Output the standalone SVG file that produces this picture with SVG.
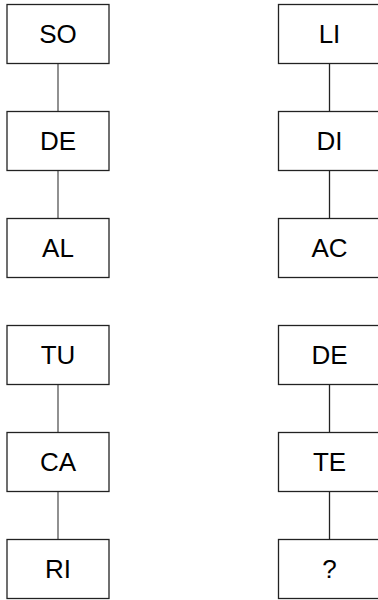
<svg xmlns="http://www.w3.org/2000/svg" width="378" height="600" viewBox="0 0 378 600">
<style>
.box{fill:#fff;stroke:#222;stroke-width:1.3}
.lbl{font-family:"Liberation Sans",Arial,sans-serif;font-size:26px;fill:#000;text-anchor:middle}
.cl{stroke:#555;stroke-width:1.3;fill:none}
.cr{stroke:#222;stroke-width:1.3;fill:none}
</style>
<rect width="378" height="600" fill="#fff"/>
<g id="connectors">
<line class="cl" x1="58" y1="63.5" x2="58" y2="111.5"/>
<line class="cl" x1="58" y1="170.5" x2="58" y2="218.5"/>
<line class="cl" x1="58" y1="384.5" x2="58" y2="432.5"/>
<line class="cl" x1="58" y1="491.5" x2="58" y2="539.5"/>
<line class="cr" x1="329.5" y1="63.5" x2="329.5" y2="111.5"/>
<line class="cr" x1="329.5" y1="170.5" x2="329.5" y2="218.5"/>
<line class="cr" x1="329.5" y1="384.5" x2="329.5" y2="432.5"/>
<line class="cr" x1="329.5" y1="491.5" x2="329.5" y2="539.5"/>
</g>
<g id="n-SO"><rect class="box" x="7" y="4.5" width="102" height="59"/><text class="lbl" x="58" y="43">SO</text></g>
<g id="n-DE1"><rect class="box" x="7" y="111.5" width="102" height="59"/><text class="lbl" x="58" y="150">DE</text></g>
<g id="n-AL"><rect class="box" x="7" y="218.5" width="102" height="59"/><text class="lbl" x="58" y="257">AL</text></g>
<g id="n-TU"><rect class="box" x="7" y="325.5" width="102" height="59"/><text class="lbl" x="58" y="364">TU</text></g>
<g id="n-CA"><rect class="box" x="7" y="432.5" width="102" height="59"/><text class="lbl" x="58" y="471">CA</text></g>
<g id="n-RI"><rect class="box" x="7" y="539.5" width="102" height="59"/><text class="lbl" x="58" y="578">RI</text></g>
<g id="n-LI"><rect class="box" x="278.5" y="4.5" width="102" height="59"/><text class="lbl" x="329.5" y="43">LI</text></g>
<g id="n-DI"><rect class="box" x="278.5" y="111.5" width="102" height="59"/><text class="lbl" x="329.5" y="150">DI</text></g>
<g id="n-AC"><rect class="box" x="278.5" y="218.5" width="102" height="59"/><text class="lbl" x="329.5" y="257">AC</text></g>
<g id="n-DE2"><rect class="box" x="278.5" y="325.5" width="102" height="59"/><text class="lbl" x="329.5" y="364">DE</text></g>
<g id="n-TE"><rect class="box" x="278.5" y="432.5" width="102" height="59"/><text class="lbl" x="329.5" y="471">TE</text></g>
<g id="n-Q"><rect class="box" x="278.5" y="539.5" width="102" height="59"/><text class="lbl" x="329.5" y="578">?</text></g>
</svg>
